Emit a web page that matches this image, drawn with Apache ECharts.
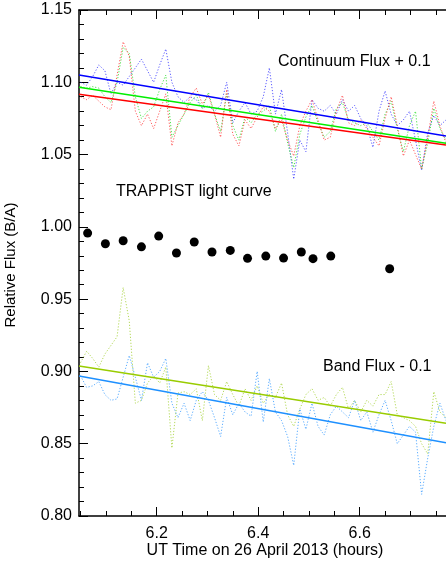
<!DOCTYPE html>
<html>
<head>
<meta charset="utf-8">
<script src="https://cdn.jsdelivr.net/npm/echarts@6/dist/echarts.min.js"></script>
<style>
html,body{margin:0;padding:0;background:#fff;}
#chart{width:446px;height:563px;}
</style>
</head>
<body>
<div id="chart"></div>
<script>
// ---- data ----
const times = [6.050, 6.062, 6.074, 6.086, 6.098, 6.110, 6.122, 6.134, 6.146, 6.158,
  6.170, 6.182, 6.194, 6.206, 6.218, 6.230, 6.242, 6.254, 6.266, 6.278,
  6.290, 6.302, 6.314, 6.326, 6.338, 6.350, 6.362, 6.374, 6.386, 6.398,
  6.410, 6.422, 6.434, 6.446, 6.458, 6.470, 6.482, 6.494, 6.506, 6.518,
  6.530, 6.542, 6.554, 6.566, 6.578, 6.590, 6.602, 6.614, 6.626, 6.638,
  6.650, 6.662, 6.674, 6.686, 6.698, 6.710, 6.722, 6.734, 6.746, 6.758, 6.770];

const contBlue = [1.100, 1.098, 1.104, 1.112, 1.108, 1.092, 1.100, 1.098, 1.104, 1.110,
  1.116, 1.108, 1.100, 1.112, 1.123, 1.100, 1.090, 1.086, 1.090, 1.088,
  1.082, 1.084, 1.080, 1.084, 1.100, 1.072, 1.080, 1.086, 1.078, 1.080,
  1.090, 1.110, 1.078, 1.095, 1.065, 1.033, 1.060, 1.052, 1.088, 1.082,
  1.080, 1.084, 1.078, 1.088, 1.080, 1.084, 1.075, 1.070, 1.055, 1.080,
  1.094, 1.078, 1.070, 1.074, 1.080, 1.060, 1.039, 1.065, 1.077, 1.070, 1.074];

const contGreen = [1.097, 1.096, 1.097, 1.096, 1.090, 1.086, 1.100, 1.124, 1.120, 1.090,
  1.075, 1.080, 1.083, 1.095, 1.105, 1.062, 1.070, 1.078, 1.086, 1.091,
  1.082, 1.093, 1.078, 1.066, 1.092, 1.070, 1.060, 1.076, 1.072, 1.078,
  1.080, 1.084, 1.066, 1.078, 1.058, 1.041, 1.064, 1.076, 1.084, 1.072,
  1.062, 1.066, 1.082, 1.086, 1.074, 1.072, 1.070, 1.072, 1.066, 1.060,
  1.078, 1.087, 1.068, 1.052, 1.070, 1.080, 1.040, 1.058, 1.082, 1.068, 1.060];

const contRed = [1.090, 1.088, 1.091, 1.087, 1.083, 1.081, 1.105, 1.128, 1.118, 1.080,
  1.070, 1.078, 1.068, 1.080, 1.092, 1.056, 1.072, 1.078, 1.090, 1.096,
  1.085, 1.091, 1.078, 1.062, 1.095, 1.064, 1.056, 1.074, 1.068, 1.076,
  1.083, 1.080, 1.068, 1.074, 1.060, 1.049, 1.070, 1.080, 1.088, 1.074,
  1.060, 1.062, 1.080, 1.091, 1.072, 1.070, 1.074, 1.068, 1.062, 1.056,
  1.075, 1.090, 1.070, 1.049, 1.060, 1.050, 1.040, 1.062, 1.087, 1.070, 1.058];

const bandGreen = [0.906, 0.914, 0.909, 0.903, 0.912, 0.918, 0.924, 0.958, 0.935, 0.878,
  0.880, 0.892, 0.897, 0.892, 0.903, 0.847, 0.885, 0.886, 0.884, 0.888,
  0.866, 0.904, 0.884, 0.880, 0.893, 0.884, 0.876, 0.888, 0.880, 0.890,
  0.878, 0.884, 0.882, 0.892, 0.870, 0.862, 0.874, 0.884, 0.888, 0.880,
  0.882, 0.876, 0.884, 0.889, 0.874, 0.880, 0.872, 0.880, 0.876, 0.884,
  0.884, 0.893, 0.870, 0.868, 0.866, 0.862, 0.850, 0.843, 0.886, 0.872, 0.868];

const bandBlue = [0.897, 0.889, 0.890, 0.893, 0.884, 0.880, 0.881, 0.896, 0.911, 0.896,
  0.880, 0.906, 0.896, 0.900, 0.909, 0.878, 0.868, 0.878, 0.866, 0.880,
  0.886, 0.880, 0.868, 0.855, 0.882, 0.870, 0.878, 0.872, 0.869, 0.900,
  0.865, 0.895, 0.872, 0.866, 0.855, 0.835, 0.874, 0.860, 0.878, 0.862,
  0.856, 0.870, 0.876, 0.872, 0.868, 0.880, 0.866, 0.872, 0.858, 0.870,
  0.880, 0.866, 0.850, 0.856, 0.862, 0.858, 0.815, 0.840, 0.862, 0.878, 0.866];

const fitX = [6.047, 6.770];
const contBlueFit = [1.1050, 1.0628];
const contGreenFit = [1.0965, 1.0578];
const contRedFit = [1.0917, 1.0566];
const bandGreenFit = [0.9037, 0.8641];
const bandBlueFit = [0.8968, 0.8507];

const trappistX = [6.064, 6.099, 6.134, 6.170, 6.204, 6.239, 6.274, 6.309, 6.345, 6.379,
  6.415, 6.450, 6.485, 6.508, 6.543, 6.659];
const trappistY = [0.9957, 0.9883, 0.9904, 0.9862, 0.9936, 0.9819, 0.9895, 0.9826, 0.9837, 0.9782,
  0.9798, 0.9784, 0.9826, 0.9780, 0.9798, 0.9710];

const xMajorTicks = [6.2, 6.4, 6.6];
const xMinorTicks = [6.05, 6.1, 6.15, 6.25, 6.3, 6.35, 6.45, 6.5, 6.55, 6.65, 6.7, 6.75];
const X_MIN = 6.047, X_MAX = 6.770;
const Y_MIN = 0.80, Y_MAX = 1.15, Y_STEP = 0.05;

// ---- chart ----
const FONT = '"Liberation Sans", Arial, Helvetica, sans-serif';
const chart = echarts.init(document.getElementById('chart'), null, {renderer: 'canvas'});

function zip(xs, ys) { return xs.map((x, i) => [x, ys[i]]); }

function dotted(name, ys, color) {
  return {
    name, type: 'line', data: zip(times, ys), symbol: 'none', smooth: false,
    lineStyle: {color, width: 1, type: [1.2, 1.8], opacity: 0.8},
    z: 2, silent: true
  };
}
function solid(name, ys, color) {
  return {
    name, type: 'line', data: zip(fitX, ys), symbol: 'none',
    lineStyle: {color, width: 1.5}, z: 3, silent: true
  };
}

const baseX = {
  type: 'value', min: X_MIN, max: X_MAX, splitLine: {show: false},
  axisLine: {show: false, onZero: false}, axisLabel: {show: false},
  axisTick: {show: true, inside: true, length: 5, lineStyle: {color: '#000', width: 1}}
};

const option = {
  animation: false,
  backgroundColor: '#fff',
  grid: {left: 79, right: 0, top: 10, bottom: 47, containLabel: false},
  xAxis: [
    Object.assign({}, baseX, {
      position: 'bottom',
      axisLine: {show: true, onZero: false, lineStyle: {color: '#000', width: 1.5}},
      axisTick: {show: true, inside: true, length: 9, customValues: xMajorTicks, lineStyle: {color: '#000', width: 1}},
      axisLabel: {show: true, customValues: xMajorTicks, formatter: v => Number(v).toFixed(1),
        color: '#000', fontSize: 16, fontFamily: FONT, margin: 10}
    }),
    Object.assign({}, baseX, {position: 'bottom',
      axisTick: {show: true, inside: true, length: 5, customValues: xMinorTicks, lineStyle: {color: '#000', width: 1}}}),
    Object.assign({}, baseX, {
      position: 'top',
      axisLine: {show: true, onZero: false, lineStyle: {color: '#000', width: 1.5}},
      axisTick: {show: true, inside: true, length: 9, customValues: xMajorTicks, lineStyle: {color: '#000', width: 1}}
    }),
    Object.assign({}, baseX, {position: 'top',
      axisTick: {show: true, inside: true, length: 5, customValues: xMinorTicks, lineStyle: {color: '#000', width: 1}}})
  ],
  yAxis: [{
    type: 'value', min: Y_MIN, max: Y_MAX, interval: Y_STEP, position: 'left',
    splitLine: {show: false},
    axisLine: {show: true, onZero: false, lineStyle: {color: '#000', width: 1.5}},
    axisTick: {show: true, inside: true, length: 9, lineStyle: {color: '#000', width: 1}},
    minorTick: {show: true, splitNumber: 5, length: 5, lineStyle: {color: '#000', width: 1}},
    axisLabel: {formatter: v => Number(v).toFixed(2), color: '#000', fontSize: 16, fontFamily: FONT, margin: 7}
  }],
  series: [
    dotted('Continuum blue', contBlue, '#3333ff'),
    dotted('Continuum green', contGreen, '#22dd22'),
    dotted('Continuum red', contRed, '#ff3333'),
    dotted('Band green', bandGreen, '#a0d030'),
    dotted('Band blue', bandBlue, '#3399ff'),
    solid('Continuum blue fit', contBlueFit, '#0000ff'),
    solid('Continuum green fit', contGreenFit, '#00ee00'),
    solid('Continuum red fit', contRedFit, '#ff0000'),
    solid('Band green fit', bandGreenFit, '#99cc00'),
    solid('Band blue fit', bandBlueFit, '#1e90ff'),
    {
      name: 'TRAPPIST', type: 'scatter', data: zip(trappistX, trappistY),
      symbol: 'circle', symbolSize: 9, itemStyle: {color: '#000', opacity: 1}, z: 5, silent: true
    }
  ],
  graphic: [
    {type: 'text', x: 278, y: 62, style: {text: 'Continuum Flux + 0.1', font: '16px ' + FONT, fill: '#000', align: 'left', verticalAlign: 'middle'}},
    {type: 'text', x: 116, y: 192, style: {text: 'TRAPPIST light curve', font: '16px ' + FONT, fill: '#000', align: 'left', verticalAlign: 'middle'}},
    {type: 'text', x: 323, y: 367, style: {text: 'Band Flux - 0.1', font: '16px ' + FONT, fill: '#000', align: 'left', verticalAlign: 'middle'}},
    {type: 'text', x: 265, y: 551, style: {text: 'UT Time on 26 April 2013 (hours)', font: '16px ' + FONT, fill: '#000', align: 'center', verticalAlign: 'middle'}},
    {type: 'text', x: 11, y: 265, rotation: Math.PI / 2, style: {text: 'Relative Flux (B/A)', font: '15px ' + FONT, fill: '#000', align: 'center', verticalAlign: 'middle'}}
  ]
};
chart.setOption(option);
</script>
</body>
</html>
